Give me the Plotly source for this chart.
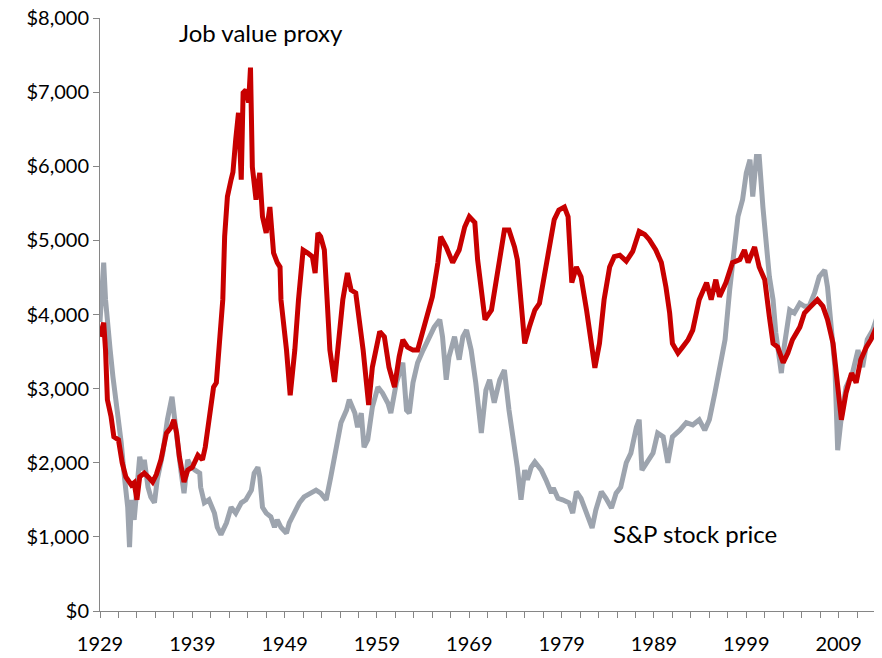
import plotly.graph_objects as go

# job value proxy (red) - year, dollars
job_years = [
    1929.0, 1929.1, 1929.4, 1929.6, 1929.8, 1930.2, 1930.5, 1931.0, 1931.4, 1931.8,
    1932.4, 1932.7, 1933.0, 1933.3, 1933.8, 1934.3, 1934.7, 1935.1, 1935.6, 1936.2,
    1936.7, 1937.0, 1937.3, 1937.6, 1938.1, 1938.5, 1939.0, 1939.6, 1940.1, 1940.4,
    1940.7, 1941.0, 1941.3, 1941.6, 1941.9, 1942.3, 1942.5, 1942.8, 1943.2, 1943.4,
    1943.7, 1944.0, 1944.3, 1944.5, 1944.8, 1945.1, 1945.3, 1945.5, 1945.9, 1946.3,
    1946.6, 1947.0, 1947.4, 1947.8, 1948.2, 1948.5, 1948.6, 1949.2, 1949.6, 1950.1,
    1950.5, 1951.0, 1951.5, 1952.0, 1952.3, 1952.6, 1952.9, 1953.3, 1953.6, 1953.9,
    1954.4, 1954.7, 1955.3, 1955.8, 1956.2, 1956.7, 1957.2, 1957.5, 1958.1, 1958.5,
    1959.3, 1959.8, 1960.3, 1960.9, 1961.4, 1961.8, 1962.3, 1962.9, 1963.4, 1964.0,
    1964.5, 1965.0, 1965.6, 1965.9, 1966.5, 1967.2, 1967.9, 1968.5, 1969.0, 1969.6,
    1969.9, 1970.3, 1970.7, 1971.4, 1971.9, 1972.4, 1972.8, 1973.3, 1973.9, 1974.2,
    1974.6, 1975.0, 1975.5, 1976.1, 1976.6, 1977.1, 1977.7, 1978.2, 1978.7, 1979.3,
    1979.7, 1980.1, 1980.6, 1981.1, 1981.7, 1982.2, 1982.6, 1983.1, 1983.6, 1984.2,
    1984.7, 1985.3, 1986.0, 1986.7, 1987.4, 1988.0, 1988.5, 1989.2, 1989.8, 1990.3,
    1990.7, 1991.0, 1991.6, 1992.1, 1992.7, 1993.2, 1993.9, 1994.7, 1995.2, 1995.7,
    1996.1, 1996.8, 1997.5, 1998.3, 1998.8, 1999.2, 1999.9, 2000.4, 2001.0, 2001.5,
    2001.9, 2002.4, 2003.0, 2003.5, 2004.0, 2004.8, 2005.3, 2006.0, 2006.7, 2007.3,
    2007.8, 2008.4, 2008.9, 2009.3, 2009.8, 2010.4, 2010.9, 2011.4, 2012.0, 2012.5,
    2013.1, 2013.4, 2013.6,
]
job_values = [
    3700, 3750, 3890, 3520, 2850, 2620, 2350, 2310, 2000, 1810,
    1700, 1730, 1500, 1810, 1860, 1800, 1740, 1840, 2040, 2400,
    2480, 2580, 2400, 2080, 1740, 1900, 1940, 2100, 2040, 2210,
    2480, 2850, 3020, 3080, 3610, 4200, 5050, 5590, 5820, 5920,
    6360, 6720, 5820, 6990, 7030, 6860, 7330, 5990, 5550, 5910,
    5320, 5100, 5450, 4830, 4700, 4640, 4200, 3520, 2910, 3520,
    4200, 4870, 4830, 4780, 4560, 5100, 5050, 4870, 4200, 3520,
    3090, 3520, 4200, 4560, 4330, 4290, 3790, 3520, 2780, 3290,
    3770, 3700, 3290, 3020, 3430, 3660, 3560, 3520, 3520, 3790,
    4060, 4240, 4700, 5050, 4910, 4700, 4870, 5180, 5320, 5240,
    4740, 4330, 3930, 4060, 4430, 4870, 5140, 5140, 4910, 4740,
    4200, 3610, 3830, 4060, 4150, 4510, 4910, 5280, 5410, 5450,
    5320, 4430, 4640, 4510, 4060, 3660, 3280, 3610, 4200, 4640,
    4780, 4800, 4720, 4850, 5120, 5080, 5010, 4870, 4700, 4370,
    4020, 3610, 3480, 3560, 3660, 3790, 4200, 4430, 4200, 4470,
    4240, 4430, 4700, 4740, 4870, 4700, 4910, 4640, 4470, 3970,
    3610, 3560, 3350, 3480, 3660, 3830, 4020, 4110, 4200, 4110,
    3930, 3610, 3080, 2580, 2940, 3210, 3080, 3390, 3560, 3660,
    3830, 4370, 4600,
]

# S&P stock price (gray) - year, dollars
sp_years = [
    1929.0, 1929.2, 1929.4, 1929.6, 1929.8, 1930.1, 1930.4, 1930.7, 1931.0, 1931.3,
    1931.6, 1932.0, 1932.2, 1932.4, 1932.7, 1933.0, 1933.3, 1933.6, 1933.8, 1934.2,
    1934.5, 1934.9, 1935.2, 1935.8, 1936.3, 1936.8, 1937.0, 1937.4, 1937.8, 1938.1,
    1938.5, 1938.9, 1939.3, 1939.8, 1939.9, 1940.3, 1940.8, 1941.4, 1941.7, 1942.1,
    1942.7, 1943.2, 1943.7, 1944.3, 1944.8, 1945.4, 1945.7, 1946.1, 1946.3, 1946.6,
    1947.0, 1947.5, 1947.9, 1948.2, 1948.6, 1949.2, 1949.5, 1950.1, 1950.6, 1951.1,
    1951.7, 1952.4, 1952.9, 1953.5, 1954.0, 1954.6, 1955.1, 1955.7, 1956.0, 1956.6,
    1956.9, 1957.3, 1957.6, 1958.0, 1958.5, 1959.1, 1959.6, 1960.2, 1960.5, 1961.1,
    1961.8, 1962.2, 1962.5, 1962.9, 1963.4, 1964.0, 1964.7, 1965.2, 1965.8, 1966.1,
    1966.5, 1966.8, 1967.4, 1967.9, 1968.3, 1968.7, 1969.2, 1969.7, 1970.3, 1970.8,
    1971.2, 1971.7, 1972.3, 1972.8, 1973.3, 1973.7, 1974.2, 1974.6, 1975.0, 1975.3,
    1975.7, 1976.1, 1976.8, 1977.3, 1977.9, 1978.1, 1978.6, 1979.1, 1979.8, 1980.2,
    1980.6, 1981.1, 1981.7, 1982.3, 1982.7, 1983.3, 1983.8, 1984.4, 1984.9, 1985.4,
    1986.0, 1986.5, 1987.1, 1987.4, 1987.7, 1988.3, 1988.9, 1989.4, 1990.0, 1990.5,
    1991.0, 1991.8, 1992.5, 1993.2, 1993.9, 1994.5, 1995.0, 1995.6, 1996.1, 1996.7,
    1997.2, 1997.7, 1998.1, 1998.6, 1999.0, 1999.4, 1999.7, 2000.1, 2000.4, 2000.8,
    2001.2, 2001.5, 2001.9, 2002.2, 2002.8, 2003.1, 2003.7, 2004.2, 2004.8, 2005.3,
    2005.8, 2006.4, 2006.9, 2007.5, 2007.8, 2008.2, 2008.6, 2008.9, 2009.3, 2009.8,
    2010.5, 2011.1, 2011.6, 2012.1, 2012.7, 2013.3, 2013.6,
]
sp_values = [
    3900, 4400, 4700, 4200, 3830, 3520, 3160, 2850, 2620, 2270,
    1860, 1400, 860, 1500, 1230, 1590, 2080, 1900, 2040, 1670,
    1540, 1460, 1770, 2130, 2580, 2890, 2710, 2270, 1860, 1590,
    2040, 1940, 1900, 1860, 1670, 1460, 1500, 1320, 1130, 1030,
    1190, 1400, 1320, 1460, 1500, 1630, 1860, 1940, 1810, 1400,
    1320, 1270, 1130, 1230, 1130, 1050, 1190, 1360, 1460, 1540,
    1590, 1630, 1590, 1500, 1810, 2170, 2540, 2710, 2850, 2670,
    2480, 2670, 2210, 2310, 2750, 3020, 2940, 2800, 2670, 3080,
    3350, 2710, 2670, 3080, 3350, 3520, 3700, 3830, 3930, 3700,
    3120, 3430, 3700, 3390, 3700, 3790, 3520, 3080, 2400, 2980,
    3120, 2810, 3120, 3250, 2710, 2400, 1940, 1500, 1900, 1770,
    1940, 2010, 1900, 1770, 1590, 1660, 1520, 1500, 1460, 1320,
    1610, 1520, 1320, 1120, 1360, 1610, 1520, 1390, 1590, 1670,
    2000, 2130, 2480, 2580, 1900, 2010, 2130, 2400, 2350, 2000,
    2350, 2440, 2540, 2510, 2580, 2440, 2580, 2940, 3250, 3660,
    4330, 4970, 5320, 5550, 5910, 6090, 5590, 6130, 6130, 5450,
    4970, 4510, 4200, 3750, 3210, 3560, 4060, 4020, 4150, 4110,
    4110, 4290, 4510, 4600, 4370, 3830, 3290, 2170, 2620, 3020,
    3210, 3520, 3290, 3660, 3790, 4020, 4200,
]

y_ticks = [0, 1000, 2000, 3000, 4000, 5000, 6000, 7000, 8000]
x_ticks = [1929, 1939, 1949, 1959, 1969, 1979, 1989, 1999, 2009]

FONT = "Lato, 'Open Sans', sans-serif"
AXIS_GREY = "#868686"

fig = go.Figure()
fig.add_trace(go.Scatter(
    x=sp_years, y=sp_values, mode="lines", name="S&P stock price",
    line=dict(color="#9DA4AE", width=5),
))
fig.add_trace(go.Scatter(
    x=job_years, y=job_values, mode="lines", name="Job value proxy",
    line=dict(color="#C80000", width=5),
))

fig.add_annotation(x=1946.4, y=7800, text="Job value proxy", showarrow=False,
                   font=dict(family=FONT, size=24, color="black"))
fig.add_annotation(x=1993.4, y=1050, text="S&P stock price", showarrow=False,
                   font=dict(family=FONT, size=24, color="black"))

# page body has an 8px margin, so the margins are offset by that amount
fig.update_layout(
    width=874, height=650,
    margin=dict(l=92, r=0, t=10, b=47),
    plot_bgcolor="white", paper_bgcolor="white",
    showlegend=False,
    font=dict(family=FONT, size=20, color="black"),
)
fig.update_xaxes(
    range=[1929, 2013.7], tickvals=x_ticks, showgrid=False, zeroline=False,
    showline=True, linecolor=AXIS_GREY, linewidth=1, automargin=False,
    ticklabeloverflow="allow",
    ticks="outside", ticklen=6, tickcolor=AXIS_GREY, ticklabelstandoff=9,
    minor=dict(tick0=1929, dtick=2, ticks="outside", ticklen=6, tickcolor=AXIS_GREY),
)
fig.update_yaxes(
    range=[0, 8000], tickvals=y_ticks, tickformat="$,", showgrid=False, zeroline=False,
    showline=True, linecolor=AXIS_GREY, linewidth=1, automargin=False,
    ticklabeloverflow="allow",
    ticks="outside", ticklen=6, tickcolor=AXIS_GREY,
)

fig.write_html("out.html")
